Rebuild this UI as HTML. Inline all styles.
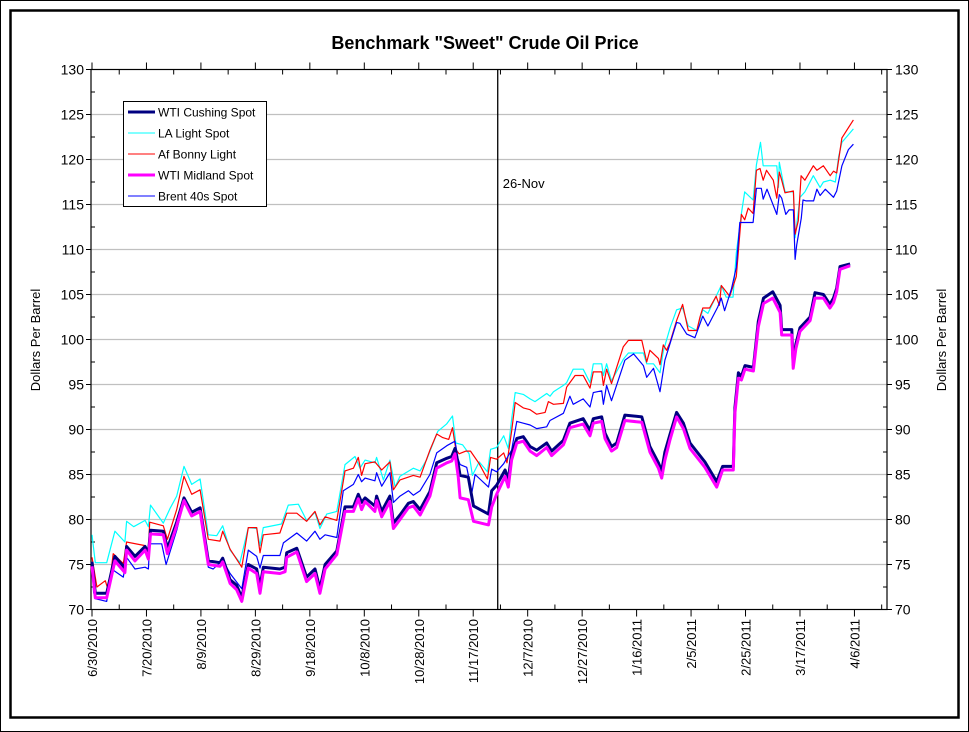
<!DOCTYPE html>
<html><head><meta charset="utf-8"><style>
html,body{margin:0;padding:0;background:#fff}
svg{display:block;font-family:"Liberation Sans",Arial,sans-serif}
</style></head><body>
<svg id="chart" width="969" height="732" viewBox="0 0 969 732">
<rect x="0.5" y="0.5" width="968" height="731" fill="#fff" stroke="#000" stroke-width="1"/>
<rect x="10.5" y="10.5" width="948" height="707" fill="#fff" stroke="#000" stroke-width="2.5"/>
<text x="485" y="49" text-anchor="middle" font-size="18" font-weight="bold">Benchmark "Sweet" Crude Oil Price</text>
<g id="grid"></g>
<g id="axes"></g>
<g id="series"></g>
<text x="40" y="340" text-anchor="middle" font-size="13" transform="rotate(-90 40 340)">Dollars Per Barrel</text>
<text x="946" y="340" text-anchor="middle" font-size="13" transform="rotate(-90 946 340)">Dollars Per Barrel</text>
<g>
<rect x="123.5" y="101.5" width="143" height="105" fill="#fff" stroke="#000" stroke-width="1"/>
<g><line x1="128" y1="112" x2="155" y2="112" stroke="#000080" stroke-width="3"/><text x="158" y="116.5" font-size="12">WTI Cushing Spot</text></g>
<g><line x1="128" y1="133" x2="155" y2="133" stroke="#00ffff" stroke-width="1"/><text x="158" y="137.5" font-size="12">LA Light Spot</text></g>
<g><line x1="128" y1="154" x2="155" y2="154" stroke="#ff0000" stroke-width="1"/><text x="158" y="158.5" font-size="12">Af Bonny Light</text></g>
<g><line x1="128" y1="175" x2="155" y2="175" stroke="#ff00ff" stroke-width="3"/><text x="158" y="179.5" font-size="12">WTI Midland Spot</text></g>
<g><line x1="128" y1="196" x2="155" y2="196" stroke="#0000ff" stroke-width="1"/><text x="158" y="200.5" font-size="12">Brent 40s Spot</text></g>
</g>
</svg>
<script>
// x in days since 6/30/2010
const xTickLabels = ["6/30/2010","7/20/2010","8/9/2010","8/29/2010","9/18/2010","10/8/2010","10/28/2010","11/17/2010","12/7/2010","12/27/2010","1/16/2011","2/5/2011","2/25/2011","3/17/2011","4/6/2011"];
const xTickDays = [0,20,40,60,80,100,120,140,160,180,200,220,240,260,280];
const yTicks = [70,75,80,85,90,95,100,105,110,115,120,125,130];
const markerDay = 149;
const markerLabel = "26-Nov";

const cushingDays = [0,1.2,5.4,8.4,12.1,12.7,15.8,19.5,20.7,21.5,26.2,27.7,31.1,33.8,36.6,39.7,42.7,47,48,50.7,53.1,55,57.4,60.5,61.7,62.9,69,70.9,71.5,75.2,78.8,81.9,83.7,85.6,89.9,92.9,96,97.8,99,100.3,103.9,104.5,106.4,109.4,110.7,113.1,116.2,118,120.5,124.1,126.6,130.3,132.1,133.3,134.5,135.2,138.2,140.1,145.6,146.8,148.6,151.7,152.9,154.1,156,158.4,160.9,163.3,167,168.8,173.1,175.5,180.4,182.9,184.1,187.2,188.4,190.8,192.7,195.7,201.9,204.9,208,209.2,210.4,212.3,214.7,217.2,219.6,225.1,229.4,231.6,235.5,236.1,237.4,238.5,239.8,242.9,244.7,246.6,250,252.7,253.3,257,257.5,258.5,260,263.7,265.5,268.6,271,272.3,273.5,274.7,278.4];
const cushingVals = [75.3,71.8,71.8,75.9,74.6,77,75.9,77,76.2,78.8,78.7,76.8,79.7,82.4,80.8,81.3,75.4,75.2,75.7,73.3,72.7,71.3,75,74.5,72.5,74.7,74.5,74.7,76.3,76.8,73.6,74.5,72.3,75,76.5,81.4,81.4,82.8,81.9,82.4,81.5,82.6,80.9,82.6,79.6,80.5,81.8,82,81.1,83.1,86.3,86.8,87,87.9,86.1,84.9,84.7,81.5,80.6,83.2,83.8,85.5,84.4,87.3,89,89.2,88.1,87.7,88.5,87.6,88.8,90.7,91.2,89.9,91.2,91.4,89.6,88.1,88.5,91.6,91.4,88.1,86.3,85.4,87.5,89.5,91.9,90.7,88.5,86.4,84.2,85.9,85.9,92.4,96.3,95.9,97.1,96.9,102,104.6,105.3,103.8,101.1,101.1,97.2,99.5,101.3,102.5,105.2,105,103.9,104.6,105.7,108.1,108.4];
const midlandVals = [74.8,71.3,71.3,75.4,74.1,76.6,75.4,76.6,75.6,78.4,78.3,76.2,79.3,82.1,80.4,80.9,75,74.8,75.3,72.9,72.2,70.9,74.6,74,71.8,74.2,74,74.2,75.8,76.4,73.1,74,71.8,74.5,76.1,80.9,80.9,82.3,81.1,82,80.9,82.1,80.3,82,79,80,81.3,81.5,80.5,82.6,85.7,86.3,86.5,87.3,84.8,82.4,82.2,79.8,79.4,81.4,82.8,84.8,83.6,86.6,88.5,88.7,87.6,87.1,88,87.1,88.3,90.2,90.6,89.3,90.7,90.9,89,87.6,88,91,90.8,87.5,85.7,84.6,86.6,88.9,91.4,90.1,87.9,85.8,83.6,85.5,85.5,91.8,95.7,95.5,96.7,96.5,101.4,104,104.6,103,100.5,100.5,96.8,99,100.9,102.1,104.6,104.6,103.5,104.1,105.3,107.8,108.2];
const brentDays = [0,0.6,1.2,5.4,7.2,11.5,12.7,15.8,19.5,20.7,21.2,25.6,27.2,31.1,33.8,36.6,39.7,42.7,44.5,48,50.7,55,57.4,60.5,61.7,62.9,69,70.3,75.2,78.8,81.9,83.7,85.6,89.9,92.3,96,97.8,99,100.3,103.9,104.5,106.4,109.4,110.7,113.1,116.2,118,120.5,124.1,126.6,130.3,133.3,134.5,135.2,137.6,139.5,140.7,145.6,146.8,148.6,151.2,154.1,156,158.4,160.9,163.3,167,168.2,173.1,175.5,176.7,180.4,182.9,184.1,187.2,187.8,189,190.8,195.7,198.9,202.5,203.7,206.2,208.6,210.4,214.7,215.9,218.4,221.4,224.3,226.2,229.8,231.1,232.3,234.8,236.6,237.9,239.7,242.8,244,245.8,246.5,247.9,251.5,252.4,253.3,254.8,256,257.6,258.2,258.8,260.5,261.1,262.3,265,266.2,267.4,269.3,272.3,273.5,275.4,277.8,279.6];
const brentVals = [75.3,71.9,71.2,70.9,74.5,73.6,75.8,74.5,74.7,74.5,77.3,77.3,75,78.8,82,80.4,80.9,74.7,74.5,75.5,74,72.3,76.6,75.9,74.6,76,76,77.4,78.5,77.6,78.7,77.8,78.3,78,83.2,83.9,85,84.2,84.6,84.3,85.2,83.7,85.2,81.9,82.6,83.2,82.7,83.2,85,87.4,88.2,88.7,86.7,86.1,85.8,83,85,83.6,85.6,85.3,86.2,87.7,90.9,90.7,90.5,90.1,90.3,91,91.8,93.7,92.8,93.4,92.5,94.1,94.3,92.8,94.9,93.2,97.7,98.4,97.1,95.8,96.8,94.2,97.7,101.9,101.8,100.6,100.2,102.6,101.5,103.6,104.6,103.2,105.6,108,113,113,113,116.8,116.8,115.6,116.7,113.9,116.1,115.7,113.9,114.4,114.4,108.9,110.5,113.5,115.5,115.4,115.4,116.7,116,116.7,115.8,116.5,119.3,121.1,121.7];
const bonnyDays = [0,1.8,4.9,6.1,7.8,11.5,12.7,19.5,20.7,21.2,26.2,27.7,31.1,33.8,36.6,39.7,42.7,47,48,50.7,55,57.4,60.5,61.7,62.9,69,71.5,75.2,78.8,81.9,83.7,85.6,89.9,92.9,96,97.8,99,100.3,103.9,106.4,109.4,110.7,113.1,118,120.5,124.1,126.6,128.8,131,132.4,133.6,134.8,137.3,139,142.2,145.2,146.4,148.6,151.2,152.4,154.1,155.4,158.4,160.9,163.3,166.4,167.6,169.5,173.1,174.3,177.4,180.4,182.9,184.1,187.2,187.8,189,190.8,195.1,197,201.9,203.7,204.9,208,208.6,209.8,211,212.3,214.7,216.9,219,222.1,223.3,224.3,226.8,229.2,230.4,231.1,234.2,236.6,238.5,239.7,241,242.8,244,245.3,246.5,247.7,250.2,251.5,252.4,253.3,254.5,257.6,258.2,259.4,260.4,261.8,264.9,266.2,268.6,271.1,272.3,273.5,275.4,279.6];
const bonnyVals = [75.8,72.5,73.2,72,76.2,75.1,77.5,77.1,76.6,79.7,79.3,77.8,81.1,84.8,82.8,83.3,77.8,77.6,78.7,76.7,74.7,79.1,79.1,76.3,78.3,78.5,80.7,80.7,79.8,80.9,79.4,80.3,79.9,85.4,85.7,86.9,84.9,86.2,86.4,85.5,86.4,83.3,84.4,84.9,84.7,87.7,89.5,89.1,88.9,90.2,87.8,87.3,87.6,87.6,86.2,84.5,86.9,86.7,87.4,86.3,89.8,93,92.4,92.2,91.7,91.9,93.1,92.8,92.9,94.7,96,96,94.6,96.4,96.4,94.9,96.7,95.1,99.2,99.9,99.9,97.5,98.8,97.9,97.2,99.4,98.8,99.7,102.1,103.9,101,101,102.5,103.5,103.5,104.8,103.8,106,104.8,107,113.9,113.3,114.6,114,118.8,119,117.7,118.8,117.7,115.7,118.6,117.7,116.3,116.5,111.7,113.2,118.2,117.7,119.3,118.8,119.3,118.2,118.7,118.5,122.4,124.4];
const laDays = [0,1.2,5.4,8.4,12.1,12.7,15.3,19.5,20.7,21.5,26.2,28.6,31.1,33.8,36.6,39.7,42.7,45.8,48,50.7,54.3,57.4,60.5,61.7,62.9,69.6,72.1,75.8,78.8,81.9,83.7,86.2,89.9,92.9,96.6,98.4,100.3,103.9,104.5,107,109.4,111.3,113.1,118,120.5,122.8,125.3,127,130.2,132.4,133.6,136.1,138.5,139.7,142.2,145.2,146.4,148.6,151.2,152.9,154.1,155.4,158.4,160.9,162.7,167,168.2,169.5,173.1,174.3,176.7,180.4,182.9,184.1,187.2,187.8,189,190.8,195.1,197,202.5,203.7,206.2,208.6,209.8,212.3,214.7,216.9,219,222.1,224.3,226.2,229.2,231.1,232.9,235.4,236.6,238.5,239.7,242.8,244,245.5,246.5,251.5,252.1,252.4,254.5,257.6,258.2,260,261.8,264.9,267.4,268.6,271.1,273,274.2,275.4,279.6];
const laVals = [78.3,75.2,75.2,78.7,77.5,79.8,79.2,79.9,79.2,81.6,79.6,81.2,82.6,85.9,83.9,84.5,78.3,78.2,79.3,76.6,75.2,79.1,79,77.1,79.1,79.5,81.6,81.7,79.9,80.8,79,80.6,80.9,86.1,87,85.7,86.6,86.3,86.9,84.4,86.6,83.6,84.8,85.7,85.4,86.6,88.5,89.8,90.6,91.5,88.5,88.3,87.3,84.9,86.4,85.3,87.8,88,89.3,87.9,91.1,94.1,93.9,93.4,93.1,94,93.7,94.2,94.9,95.2,96.7,96.7,95.2,97.3,97.3,96,97.3,95.4,97.8,98.5,98.5,97.3,97.3,96.3,98.7,101.3,103.3,103.5,101.5,101,103.3,102.9,104.8,106,104.7,104.7,109.6,114,116.4,115.5,119.4,121.9,119.3,119.3,116.9,119.7,116.4,116.4,111.3,115.8,116.4,118.2,116.9,117.5,117.7,117.5,120.3,121.9,123.4];

const NS='http://www.w3.org/2000/svg';
const X0=92, PXD=2.723, PL=91, PR=887, PT=69.5, PB=609.5;
function xScale(d){return X0+d*PXD;}
function yScale(v){return PT+(130-v)*9;}
function mk(tag,attrs,parent){const e=document.createElementNS(NS,tag);for(const k in attrs)e.setAttribute(k,attrs[k]);parent.appendChild(e);return e;}
const svg=document.getElementById('chart');
const grid=document.getElementById('grid'), axes=document.getElementById('axes'), series=document.getElementById('series');

yTicks.forEach(v=>{
  const y=yScale(v);
  if(v>70&&v<130){const g=mk('line',{x1:PL,x2:PR,y1:y,y2:y,stroke:'#c0c0c0','stroke-width':1.3},grid);
  
  }
  mk('line',{x1:PL-5,x2:PL,y1:y,y2:y,stroke:'#000'},axes);
  mk('line',{x1:PR,x2:PR+5,y1:y,y2:y,stroke:'#000'},axes);
  const t1=mk('text',{x:PL-7,y:y+5,'text-anchor':'end','font-size':14},axes);t1.textContent=v;
  
  
  const t2=mk('text',{x:PR+8,y:y+5,'text-anchor':'start','font-size':14},axes);t2.textContent=v;
  
  
  if(v<130){const m=yScale(v+2.5);
    mk('line',{x1:PL,x2:PL+4,y1:m,y2:m,stroke:'#000'},axes);
    mk('line',{x1:PR-4,x2:PR,y1:m,y2:m,stroke:'#000'},axes);}
});
mk('rect',{x:PL,y:PT,width:PR-PL,height:PB-PT,fill:'none',stroke:'#000','stroke-width':1.2},axes);
for(let d=0;d<=290;d+=10){
  const x=xScale(d), major=(d%20===0);
  mk('line',{x1:x,x2:x,y1:PB-(major?0:0),y2:PB+(major?7:0)+(major?0:0),stroke:'#000'},axes);
  mk('line',{x1:x,x2:x,y1:PB-(major?0:5),y2:PB,stroke:'#000'},axes);
  mk('line',{x1:x,x2:x,y1:PT-(major?7:0),y2:PT+(major?0:5),stroke:'#000'},axes);
}
xTickDays.forEach((d,i)=>{
  const x=xScale(d)+5, y=619;
  const t=mk('text',{x:x,y:y,'text-anchor':'end','font-size':13,transform:'rotate(-90 '+x+' '+y+')'},axes);
  t.textContent=xTickLabels[i];
  
  
});
const ml=mk('line',{x1:xScale(markerDay),x2:xScale(markerDay),y1:PT,y2:PB,stroke:'#000','stroke-width':1.3},axes);


const mt=mk('text',{x:xScale(markerDay)+5,y:188,'font-size':13},axes);mt.textContent=markerLabel;



function draw(days,vals,color,w,name){
  const pts=days.map((d,i)=>xScale(d).toFixed(1)+','+yScale(vals[i]).toFixed(1)).join(' ');
  const p=mk('polyline',{points:pts,fill:'none',stroke:color,'stroke-width':w,'stroke-linejoin':'round'},series);
  
  
}
draw(laDays,laVals,'#00ffff',1.2,'series-la-light');
draw(bonnyDays,bonnyVals,'#ff0000',1.2,'series-bonny-light');
draw(brentDays,brentVals,'#0000ff',1.2,'series-brent-40s');
draw(cushingDays,cushingVals,'#000080',3,'series-wti-cushing');
draw(cushingDays,midlandVals,'#ff00ff',3,'series-wti-midland');
</script>
</body></html>
